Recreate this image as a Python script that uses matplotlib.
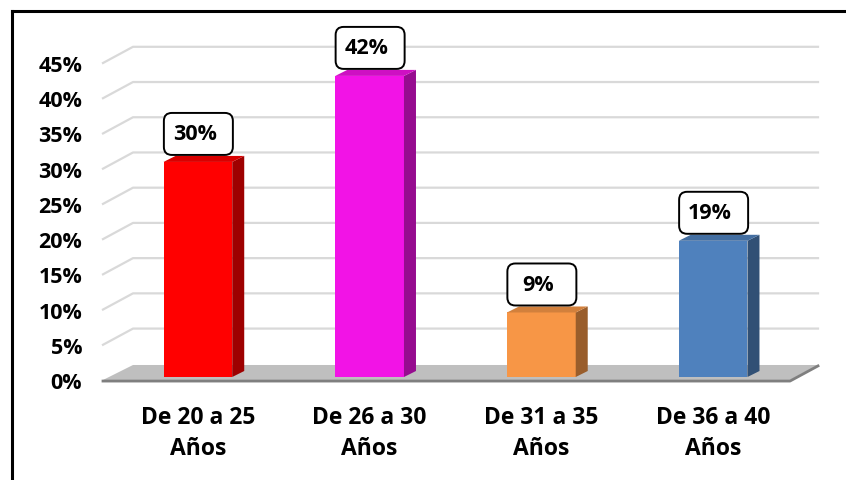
import matplotlib
matplotlib.use("Agg")
import matplotlib.pyplot as plt
from matplotlib.patches import Polygon, FancyBboxPatch
from matplotlib.lines import Line2D
from matplotlib.transforms import ScaledTranslation, IdentityTransform
from matplotlib.colors import to_rgb

categories = ["De 20 a 25\nAños", "De 26 a 30\nAños", "De 31 a 35\nAños", "De 36 a 40\nAños"]
values = [30, 42, 9, 19]
labels = ["30%", "42%", "9%", "19%"]
colors = ["#FF0000", "#F213E6", "#F79646", "#4F81BD"]
yticks = [0, 5, 10, 15, 20, 25, 30, 35, 40, 45]

FONT = "Open Sans"
WT = "bold"
W, H = 846, 481
fig = plt.figure(figsize=(W / 100, H / 100), dpi=100)
fig.patch.set_facecolor("white")

# frame
fig.add_artist(Line2D([11.5 / W, 11.5 / W], [0, 1 - 11.5 / H], color="black", lw=2.2))
fig.add_artist(Line2D([11.5 / W, 1], [1 - 11.5 / H, 1 - 11.5 / H], color="black", lw=2.2))

# grid / floor axes (front plane)
axg = fig.add_axes([103 / W, (H - 381) / H, 687 / W, 317 / H])
axg.set_xlim(-0.5, 3.5)
axg.set_ylim(0, 45)
for s in axg.spines.values():
    s.set_visible(False)
axg.patch.set_visible(False)
axg.set_xticks([])
axg.set_yticks(yticks)
axg.set_yticklabels([f"{v}%" for v in yticks], fontsize=15.5, fontweight=WT, family=FONT)
axg.tick_params(axis="y", length=0, pad=15)

dxb = 30 / 171.75
dyb = 2.3
xr = 3.663
for v in yticks[1:]:
    axg.plot([-0.5, -0.5 + dxb, xr], [v, v + dyb, v + dyb], color="#D9D9D9", lw=1.6,
             clip_on=False, zorder=1)
floor = Polygon([(-0.5, 0), (3.5, 0), (xr, 2.13), (-0.5 + dxb, 2.13)], closed=True,
                facecolor="#BFBFBF", edgecolor="none", clip_on=False, zorder=2)
axg.add_patch(floor)
axg.plot([-0.5, 3.5, xr], [-0.15, -0.15, 2.0], color="#7F7F7F", lw=2, clip_on=False, zorder=3)

# bars axes (bar front plane)
axb = fig.add_axes([112 / W, (H - 378) / H, 687 / W, 322.6 / H])
axb.set_xlim(-0.5, 3.5)
axb.set_ylim(0, 45)
for s in axb.spines.values():
    s.set_visible(False)
axb.patch.set_visible(False)
axb.set_yticks([])
axb.set_xticks(range(len(categories)))
axb.set_xticklabels(categories, fontsize=16.5, fontweight=WT, family=FONT, linespacing=1.42)
axb.tick_params(axis="x", length=0, pad=20)

bw = 0.4
dx = 12 / 171.75
dy = 6 / 7.17
for i, (v, c, lab) in enumerate(zip(values, colors, labels)):
    rgb = to_rgb(c)
    top = tuple(x * 0.85 for x in rgb)
    side = tuple(x * 0.62 for x in rgb)
    axb.bar(i, v, width=bw, color=c, zorder=5, clip_on=False)
    axb.add_patch(Polygon([(i + bw / 2, 0), (i + bw / 2 + dx, dy), (i + bw / 2 + dx, v + dy),
                           (i + bw / 2, v)], closed=True, facecolor=side, edgecolor="none",
                          zorder=5, clip_on=False))
    axb.add_patch(Polygon([(i - bw / 2, v), (i - bw / 2 + dx, v + dy), (i + bw / 2 + dx, v + dy),
                           (i + bw / 2, v)], closed=True, facecolor=top, edgecolor="none",
                          zorder=5, clip_on=False))
    tr = IdentityTransform() + ScaledTranslation(i, v, axb.transData)
    box = FancyBboxPatch((-34, 7), 69, 42, boxstyle="round,pad=0,rounding_size=8",
                         transform=tr, facecolor="white", edgecolor="black", lw=1.4,
                         zorder=6, clip_on=False)
    axb.add_patch(box)
    axb.text(-3, 7 + 21, lab, transform=tr, ha="center", va="center", fontsize=15.5,
             fontweight=WT, family=FONT, zorder=7, clip_on=False)

fig.savefig("out.png", dpi=100)
